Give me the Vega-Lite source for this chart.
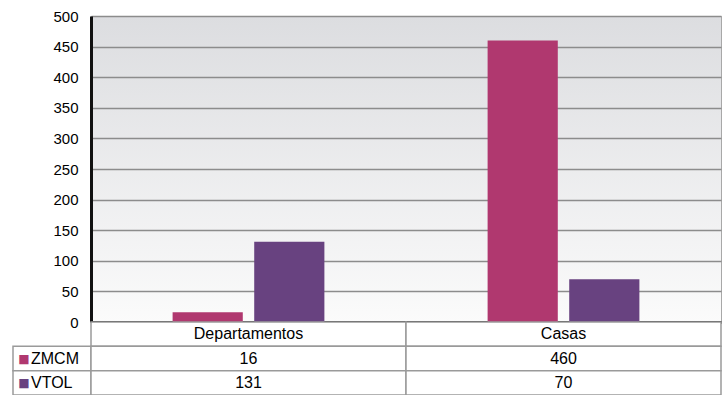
{
  "$schema": "https://vega.github.io/schema/vega-lite/v6.json",
  "padding": {"left": 12, "top": 8, "right": 3, "bottom": 0},
  "columns": 2,
  "spacing": 0,
  "bounds": "flush",
  "datasets": {
    "d": [
      {"categoria": "Departamentos", "serie": "ZMCM", "valor": 16},
      {"categoria": "Departamentos", "serie": "VTOL", "valor": 131},
      {"categoria": "Casas", "serie": "ZMCM", "valor": 460},
      {"categoria": "Casas", "serie": "VTOL", "valor": 70}
    ]
  },
  "concat": [
    {
      "width": 78,
      "height": 306,
      "data": {"values": []},
      "mark": "point",
      "encoding": {}
    },
    {
      "width": 630,
      "height": 306,
      "data": {"name": "d"},
      "view": {
        "stroke": "#a8a8a8",
        "strokeWidth": 1,
        "fill": {
          "gradient": "linear", "x1": 0, "y1": 0, "x2": 0, "y2": 1,
          "stops": [
            {"offset": 0, "color": "#dcdde0"},
            {"offset": 1, "color": "#fbfbfb"}
          ]
        }
      },
      "mark": {"type": "bar"},
      "encoding": {
        "x": {
          "field": "categoria", "type": "nominal",
          "scale": {"domain": ["Departamentos", "Casas"], "paddingInner": 0, "paddingOuter": 0},
          "axis": {"labels": false, "ticks": false, "title": null, "domainColor": "#111111", "domainWidth": 3, "grid": false}
        },
        "xOffset": {
          "field": "serie", "type": "nominal",
          "scale": {"domain": ["ZMCM", "VTOL"], "paddingInner": 0.14, "paddingOuter": 1.12}
        },
        "y": {
          "field": "valor", "type": "quantitative",
          "scale": {"domain": [0, 500], "nice": false},
          "axis": {
            "values": [0, 50, 100, 150, 200, 250, 300, 350, 400, 450, 500],
            "title": null, "ticks": false,
            "domainColor": "#111111", "domainWidth": 3,
            "grid": true, "gridColor": "#8c8c8c", "gridWidth": 1.5,
            "labelFontSize": 15, "labelPadding": 13, "labelColor": "#000000"
          }
        },
        "color": {
          "field": "serie", "type": "nominal",
          "scale": {"domain": ["ZMCM", "VTOL"], "range": ["#b0386f", "#684280"]},
          "legend": null
        }
      }
    },
    {
      "width": 78,
      "height": 73,
      "data": {"name": "d"},
      "transform": [{"aggregate": [{"op": "count", "as": "n"}], "groupby": ["serie"]}],
      "encoding": {
        "y": {
          "field": "serie", "type": "nominal",
          "scale": {"domain": ["cat", "ZMCM", "VTOL"], "paddingInner": 0, "paddingOuter": 0},
          "axis": null
        }
      },
      "layer": [
        {"mark": {"type": "rect", "fill": "#ffffff", "stroke": "#9a9a9a", "strokeWidth": 1.5}},
        {
          "mark": {"type": "text", "fontSize": 16, "align": "left", "dx": -21, "baseline": "middle", "color": "#000000"},
          "encoding": {"text": {"field": "serie"}}
        },
        {
          "mark": {"type": "text", "text": "■", "font": "DejaVu Sans", "fontSize": 12, "dx": -28, "baseline": "middle"},
          "encoding": {
            "color": {
              "field": "serie", "type": "nominal",
              "scale": {"domain": ["ZMCM", "VTOL"], "range": ["#b0386f", "#684280"]},
              "legend": null
            }
          }
        }
      ]
    },
    {
      "width": 630,
      "height": 73,
      "data": {"name": "d"},
      "layer": [
        {
          "transform": [{"aggregate": [{"op": "count", "as": "n"}], "groupby": ["categoria"]}],
          "layer": [
            {
              "mark": {"type": "rect", "fill": "#ffffff", "stroke": "#9a9a9a", "strokeWidth": 1.5},
              "encoding": {
                "x": {"field": "categoria", "type": "nominal", "scale": {"domain": ["Departamentos", "Casas"], "paddingInner": 0, "paddingOuter": 0}, "axis": null},
                "y": {"datum": "cat", "type": "nominal", "scale": {"domain": ["cat", "ZMCM", "VTOL"], "paddingInner": 0, "paddingOuter": 0}, "axis": null}
              }
            },
            {
              "mark": {"type": "text", "fontSize": 16, "baseline": "middle", "color": "#000000"},
              "encoding": {
                "x": {"field": "categoria", "type": "nominal", "axis": null},
                "y": {"datum": "cat", "type": "nominal", "axis": null},
                "text": {"field": "categoria"}
              }
            }
          ]
        },
        {
          "mark": {"type": "rect", "fill": "#ffffff", "stroke": "#9a9a9a", "strokeWidth": 1.5},
          "encoding": {
            "x": {"field": "categoria", "type": "nominal", "axis": null},
            "y": {"field": "serie", "type": "nominal", "axis": null}
          }
        },
        {
          "mark": {"type": "text", "fontSize": 16, "baseline": "middle", "color": "#000000"},
          "encoding": {
            "x": {"field": "categoria", "type": "nominal", "axis": null},
            "y": {"field": "serie", "type": "nominal", "axis": null},
            "text": {"field": "valor", "type": "quantitative"}
          }
        }
      ],
      "resolve": {"scale": {"x": "shared", "y": "shared"}}
    }
  ],
  "config": {
    "font": "Liberation Sans",
    "view": {"stroke": null},
    "axis": {"labelFont": "Liberation Sans"}
  }
}
